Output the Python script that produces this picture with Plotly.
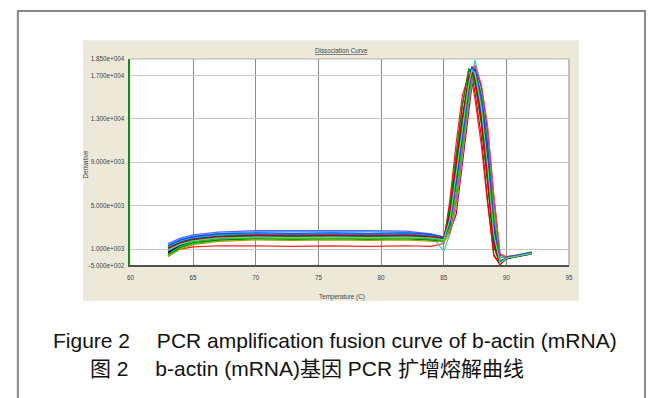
import plotly.graph_objects as go

W, H = 652, 398

# ---------------- data ----------------
temperature = [63, 64, 65, 67, 70, 73, 76, 79, 82, 84, 85, 85.5, 86, 86.5,
               87, 87.25, 87.5, 88, 88.5, 89, 89.5, 90, 91, 92]

well_01 = [700, 1000, 1200, 1300, 1300, 1250, 1300, 1250, 1300, 1250, 1500, 5600, 10800, 15200, 17000, 16400, 14800, 10600, 5200, 500, -400, 150, 400, 600]
well_02 = [900, 1500, 1850, 2050, 2150, 2100, 2150, 2100, 2150, 2050, 1900, 4200, 8500, 12800, 16500, 17600, 16800, 13200, 8000, 1500, -400, 150, 400, 600]
well_03 = [1200, 1700, 2000, 2200, 2300, 2250, 2300, 2250, 2300, 2200, 2000, 3600, 7600, 12000, 16000, 17800, 17200, 14200, 9200, 2600, -300, 200, 450, 650]
well_04 = [1400, 1900, 2200, 2450, 2600, 2600, 2650, 2600, 2550, 2300, 800, 2400, 5600, 10200, 14800, 16800, 18400, 15800, 11400, 5200, 200, 250, 500, 750]
well_05 = [600, 1300, 1700, 1900, 2000, 1950, 2000, 1950, 2000, 1900, 1700, 3300, 7200, 11600, 15600, 17000, 17500, 14600, 9800, 3200, -200, 100, 350, 550]
well_06 = [1000, 1600, 1900, 2100, 2200, 2150, 2200, 2150, 2150, 2000, 1850, 5000, 9800, 14400, 17500, 17000, 15400, 11400, 5600, 400, -450, 120, 380, 580]
well_07 = [400, 1100, 1500, 1800, 1950, 1900, 1950, 1900, 1950, 1850, 1750, 3900, 8200, 12600, 16400, 17300, 16600, 13000, 7600, 1600, -350, 150, 400, 600]
well_08 = [1300, 1800, 2100, 2300, 2400, 2350, 2400, 2350, 2400, 2250, 2050, 2600, 4200, 8800, 13800, 16000, 17600, 16000, 12000, 5800, 400, 300, 450, 650]
well_09 = [800, 1400, 1750, 2000, 2100, 2050, 2100, 2050, 2100, 2000, 1850, 3800, 8000, 12400, 16200, 17400, 17000, 13800, 8600, 2200, -350, 150, 400, 650]
well_10 = [1100, 1650, 1950, 2150, 2250, 2200, 2250, 2200, 2250, 2100, 1950, 3400, 7400, 11800, 15900, 17200, 17400, 14800, 10000, 3000, -250, 180, 420, 620]
well_11 = [500, 1200, 1600, 1850, 1950, 1900, 1950, 1900, 1950, 1850, 1700, 4400, 8800, 13200, 16800, 17500, 16400, 12600, 7200, 1200, -400, 100, 350, 550]
well_12 = [300, 1000, 1400, 1700, 1850, 1800, 1850, 1800, 1850, 1750, 1650, 2400, 4800, 9600, 14400, 16200, 17000, 15400, 11000, 4800, -100, 150, 400, 600]
well_13 = [1500, 2000, 2300, 2550, 2700, 2700, 2750, 2700, 2650, 2400, 2100, 3700, 7800, 12200, 16100, 17700, 17800, 14400, 9000, 2400, -300, 200, 450, 700]
well_14 = [800, 1400, 1700, 1950, 2050, 2000, 2050, 2000, 2050, 1950, 1800, 2700, 5400, 10400, 15000, 16900, 17900, 16200, 12400, 6000, 600, 250, 500, 700]
well_15 = [1000, 1550, 1850, 2100, 2200, 2150, 2200, 2150, 2200, 2100, 1900, 4900, 9600, 14200, 17600, 17400, 16200, 12800, 7400, 1400, -400, 150, 400, 600]
well_16 = [700, 1350, 1700, 1950, 2050, 2000, 2050, 2000, 2050, 1950, 1800, 3500, 7500, 12000, 16000, 17300, 17200, 14000, 9400, 2800, -300, 150, 400, 600]
well_17 = [1200, 1750, 2050, 2300, 2450, 2400, 2450, 2400, 2450, 2300, 2050, 3900, 8100, 12500, 16300, 17600, 17100, 13600, 8400, 2000, -350, 180, 420, 650]
well_18 = [900, 1450, 1800, 2000, 2100, 2050, 2100, 2050, 2100, 2000, 1850, 4000, 8300, 12700, 16600, 17800, 17000, 13400, 8200, 1800, -400, 150, 400, 600]
well_19 = [500, 1250, 1650, 1900, 2000, 1950, 2000, 1950, 2000, 1900, 1750, 3000, 6200, 10800, 15000, 16600, 17300, 15400, 10800, 4000, -100, 200, 420, 620]
well_20 = [1100, 1600, 1900, 2150, 2250, 2200, 2250, 2200, 2250, 2150, 2000, 4300, 8700, 13100, 16700, 17400, 16500, 12900, 7600, 1600, -400, 150, 400, 600]
well_21 = [1300, 1850, 2150, 2400, 2500, 2450, 2500, 2450, 2500, 2350, 2100, 3300, 7000, 11500, 15700, 17300, 17600, 15000, 10600, 3400, -200, 200, 450, 700]
well_22 = [900, 1450, 1750, 2000, 2100, 2050, 2100, 2050, 2100, 2000, 1850, 3700, 7900, 12300, 16200, 17500, 17200, 14100, 8800, 2400, -300, 150, 400, 600]

wells = [well_01, well_02, well_03, well_04, well_05, well_06, well_07, well_08,
         well_09, well_10, well_11, well_12, well_13, well_14, well_15, well_16,
         well_17, well_18, well_19, well_20, well_21, well_22]
well_colors = ["#ff2020", "#0000ff", "#00b000", "#40c8c8", "#000090", "#e00000",
               "#00d000", "#8000c0", "#008080", "#1030ff", "#006400", "#a0a000",
               "#6060ff", "#ff4040", "#009000", "#000080", "#00c0c0", "#2040ff",
               "#20c020", "#c00000", "#0050ff", "#60e060"]

x_ticks = [60, 65, 70, 75, 80, 85, 90, 95]
y_ticks = [-500, 1000, 5000, 9000, 13000, 17000, 18500]
y_tick_text = ["-5.000e+002", "1.000e+003", "5.000e+003", "9.000e+003",
               "1.300e+004", "1.700e+004", "1.850e+004"]

# ---------------- layout geometry (pixels) ----------------
PL, PR, PT, PB = 128, 572, 56, 266        # plot area
BL, BR, BT, BB = 80, 582, 37, 302         # beige chart panel


def px(x):
    return x / W


def py(y):
    return 1 - y / H


small_font = dict(family="Liberation Sans, Arial, sans-serif",
                  size=6.3, color="#444444")

fig = go.Figure()
for vals, col in zip(wells, well_colors):
    fig.add_trace(go.Scatter(x=temperature, y=vals, mode="lines",
                             line=dict(color=col, width=1.2), showlegend=False,
                             hoverinfo="skip"))

fig.update_layout(
    width=W, height=H, autosize=False,
    margin=dict(l=0, r=0, t=0, b=0),
    paper_bgcolor="white", plot_bgcolor="rgba(0,0,0,0)",
    xaxis=dict(domain=[px(PL), px(PR)], range=[60, 95], tickvals=x_ticks,
               showgrid=True, gridcolor="#8a8a8a", gridwidth=1, zeroline=False,
               showline=True, linecolor="#505050", linewidth=1.5,
               ticks="", tickfont=small_font, ticklabelstandoff=5),
    yaxis=dict(domain=[py(PB), py(PT)], range=[-500, 18500], tickvals=y_ticks,
               ticktext=y_tick_text, showgrid=True, gridcolor="#c8c8c0",
               gridwidth=1, zeroline=False, showline=True, linecolor="#1a8a1a",
               linewidth=2, ticks="", tickfont=small_font, ticklabelstandoff=3),
    shapes=[
        dict(type="rect", xref="paper", yref="paper", x0=px(14), x1=px(649),
             y0=py(420), y1=py(7), line=dict(color="#8a8a8a", width=2),
             fillcolor="white", layer="below"),
        dict(type="rect", xref="paper", yref="paper", x0=px(BL), x1=px(BR),
             y0=py(BB), y1=py(BT), line=dict(width=0), fillcolor="#ece9d8",
             layer="below"),
        dict(type="rect", xref="paper", yref="paper", x0=px(PL), x1=px(PR),
             y0=py(PB), y1=py(PT), line=dict(width=0), fillcolor="white",
             layer="below"),
        dict(type="line", xref="paper", yref="paper", x0=px(PL), x1=px(PR),
             y0=py(PT), y1=py(PT), line=dict(color="#b0b0b0", width=1), layer="above"),
        dict(type="line", xref="paper", yref="paper", x0=px(PR), x1=px(PR),
             y0=py(PB), y1=py(PT), line=dict(color="#b0b0b0", width=1.5), layer="above"),
    ],
    annotations=[
        dict(text="<u>Dissociation Curve</u>", x=px(342), y=py(47), xref="paper",
             yref="paper", xanchor="center", yanchor="middle", showarrow=False,
             font=small_font),
        dict(text="Derivative", x=px(82.5), y=py(163), xref="paper", yref="paper",
             xanchor="center", yanchor="middle", showarrow=False, textangle=-90,
             font=small_font),
        dict(text="Temperature (C)", x=px(342), y=py(298), xref="paper",
             yref="paper", xanchor="center", yanchor="middle", showarrow=False,
             font=small_font),
        dict(text="Figure 2\u2003 PCR amplification fusion curve of b-actin (mRNA)",
             x=px(48), y=py(343), xref="paper", yref="paper", xanchor="left",
             yanchor="middle", showarrow=False,
             font=dict(family="Liberation Sans, Arial, sans-serif", size=21, color="#111111")),
        dict(text="图 2\u2003 b-actin (mRNA)基因 PCR 扩增熔解曲线",
             x=px(85), y=py(371), xref="paper", yref="paper", xanchor="left",
             yanchor="middle", showarrow=False,
             font=dict(family="Liberation Sans, Noto Sans CJK SC, sans-serif", size=21, color="#111111")),
    ],
)

fig.write_html("out.html", post_script="document.body.style.margin='0';",
               config={"displayModeBar": False})
